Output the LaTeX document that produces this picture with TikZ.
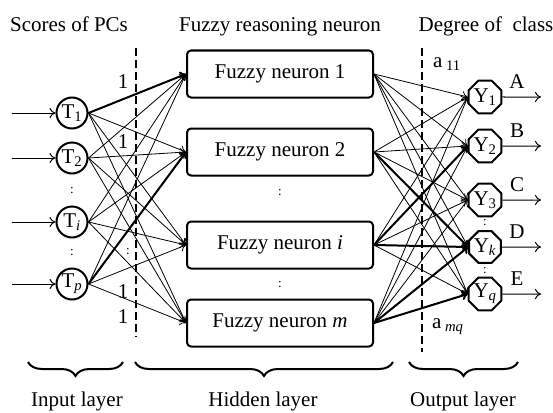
\documentclass[tikz,border=0pt]{standalone}
\usepackage{fontspec}
\setmainfont{Liberation Serif}
\usetikzlibrary{arrows.meta,shapes.geometric,decorations.pathreplacing}
\begin{document}
\begin{tikzpicture}[x=1pt,y=-1pt,
 font=\fontsize{21}{25}\selectfont,
 tnode/.style={circle,draw,line width=2pt,minimum size=31pt,inner sep=0pt},
 ynode/.style={regular polygon,regular polygon sides=8,draw,line width=2pt,minimum size=34pt,inner sep=0pt},
 fbox/.style={draw,line width=2pt,rounded corners=4pt,minimum width=186pt,minimum height=47pt,inner sep=0pt},
 conn/.style={line width=0.8pt,-{To[length=6pt,width=9pt]}},
 thickconn/.style={line width=2pt,-{To[length=6pt,width=9pt]}},
 ioarrow/.style={line width=1pt,-{To[length=6pt,width=10pt]}},
 divider/.style={line width=2.8pt,dash pattern=on 8pt off 4pt},
 lbl/.style={inner sep=0pt},
 dots/.style={inner sep=0pt,font=\fontsize{13}{15}\selectfont},
 brc/.style={decorate,decoration={brace,amplitude=14pt,mirror},line width=2pt}]
\useasboundingbox (0,0) rectangle (553,412);

% titles
\node[lbl,anchor=base] (t1) at (69,32) {Scores of PCs};
\node[lbl,anchor=base] (t2) at (280,32) {Fuzzy reasoning neuron};
\node[lbl,anchor=base] (t3) at (486,32) {Degree of\ \ class};

% dividers
\coordinate (dla) at (136,48);
\coordinate (dlb) at (136,337);
\coordinate (dra) at (422,48);
\coordinate (drb) at (422,352);
\draw[divider] (dla) -- (dlb);
\draw[divider] (dra) -- (drb);

% input nodes
\node[tnode] (T1) at (72,113) {T\textsubscript{1}};
\node[tnode] (T2) at (72,158) {T\textsubscript{2}};
\node[tnode] (Ti) at (72,222) {T\textsubscript{\textit{i}}};
\node[tnode] (Tp) at (72,284) {T\textsubscript{\textit{p}}};
\node[dots] (td1) at (72,191) {:};
\node[dots] (td2) at (72,253) {:};

\foreach \n/\y in {T1/113,T2/158,Ti/222,Tp/284}{
  \coordinate (s\n) at (12,\y);
  \draw[ioarrow] (s\n) -- (\n);
}

% fuzzy neuron boxes
\node[fbox] (B1) at (280,74) {Fuzzy neuron 1};
\node[fbox] (B2) at (280,152) {Fuzzy neuron 2};
\node[fbox] (Bi) at (280,245) {Fuzzy neuron \textit{i}};
\node[fbox] (Bm) at (280,323) {Fuzzy neuron \textit{m}};
\node[dots] (bd1) at (280,193) {:};
\node[dots] (bd2) at (280,285) {:};

% output nodes
\node[ynode] (Y1) at (485,97) {Y\textsubscript{1}};
\node[ynode] (Y2) at (485,146) {Y\textsubscript{2}};
\node[ynode] (Y3) at (485,200) {Y\textsubscript{3}};
\node[ynode] (Yk) at (485,247) {Y\textsubscript{\textit{k}}};
\node[ynode] (Yq) at (485,294) {Y\textsubscript{\textit{q}}};
\node[dots] (yd1) at (485,223) {:};
\node[dots] (yd2) at (485,271) {:};

\foreach \n/\y/\l/\ly in {Y1/97/A/82,Y2/146/B/131,Y3/200/C/185,Yk/247/D/232,Yq/294/E/279}{
  \coordinate (o\n) at (541,\y);
  \draw[ioarrow] (\n.east) -- (o\n);
  \node[lbl] (l\l) at (517,\ly) {\l};
}

% connections input -> hidden
\foreach \t in {T1,T2,Ti,Tp}{
  \foreach \b in {B1,B2,Bi,Bm}{
    \draw[conn] (\t.east) -- (\b.west);
  }
}
\draw[thickconn] (T1.east) -- (B1.west);
\draw[thickconn] (Tp.east) -- (B2.west);

% connections hidden -> output
\foreach \b in {B1,B2,Bi,Bm}{
  \foreach \o in {Y1,Y2,Y3,Yk,Yq}{
    \draw[conn] (\b.east) -- (\o.west);
  }
}
\draw[thickconn] (B2.east) -- (Yk.west);
\draw[thickconn] (Bi.east) -- (Y2.west);
\draw[thickconn] (Bi.east) -- (Yk.west);
\draw[thickconn] (Bm.east) -- (Yk.west);
\draw[thickconn] (Bm.east) -- (Yq.west);

% weight labels
\node[lbl] (w1) at (123,82) {1};
\node[lbl] (w2) at (123,142) {1};
\node[dots] (wd) at (128,252) {:};
\node[lbl] (w3) at (123,292) {1};
\node[lbl] (w4) at (123,317) {1};
\node[lbl,anchor=base west] (a11) at (433,67) {a\,\textsubscript{11}};
\node[lbl,anchor=base west] (amq) at (432,328) {a\,\textsubscript{\textit{mq}}};

% braces
\coordinate (bi1) at (28,362); \coordinate (bi2) at (123,362);
\coordinate (bh1) at (135,362); \coordinate (bh2) at (393,362);
\coordinate (bo1) at (409,362); \coordinate (bo2) at (518,362);
\draw[brc] (bi1) -- (bi2);
\draw[brc] (bh1) -- (bh2);
\draw[brc] (bo1) -- (bo2);
\node[lbl,anchor=base] (li) at (77,406) {Input layer};
\node[lbl,anchor=base] (lh) at (263,406) {Hidden layer};
\node[lbl,anchor=base] (lo) at (463,406) {Output layer};
\end{tikzpicture}
\end{document}
